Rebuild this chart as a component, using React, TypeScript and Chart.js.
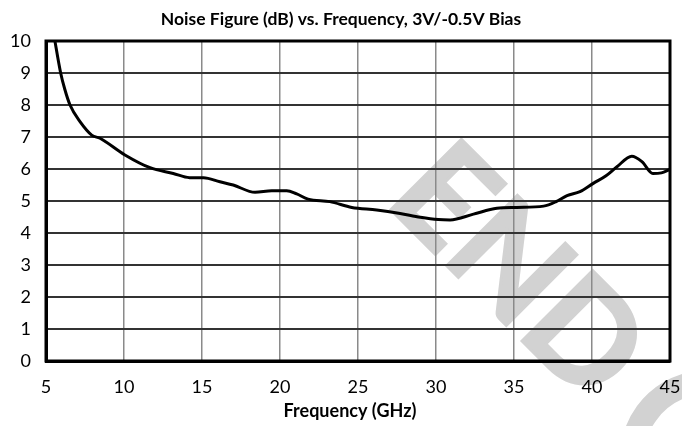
import React, { useEffect, useRef } from "react";
import { Chart, registerables } from "chart.js";

Chart.register(...registerables);

const chartTitle = "Noise Figure (dB) vs. Frequency, 3V/-0.5V Bias";
const xAxisTitle = "Frequency (GHz)";
const watermarkText = "END";

const xTickMin = 5;
const xTickMax = 45;
const xTickStep = 5;
const yTickMin = 0;
const yTickMax = 10;
const yTickStep = 1;

const freqGHz = [
  5.5, 5.94, 6.2, 6.54, 7.18, 7.93, 8.46, 10.06, 11.67, 13.16, 14.2, 15.1,
  16.15, 17.0, 18.4, 19.47, 20.43, 21.07, 21.8, 23.2, 24.6, 26.2, 27.7, 29.0,
  30.15, 30.9, 32.4, 33.9, 35.17, 36.9, 37.7, 38.4, 39.23, 40.08, 40.9, 41.6,
  42.55, 43.2, 43.9, 44.45, 45.0,
];
const noiseFigureDb = [
  10.2, 9.0, 8.5, 8.0, 7.48, 7.06, 6.96, 6.44, 6.04, 5.86, 5.73, 5.73,
  5.6, 5.5, 5.27, 5.32, 5.32, 5.22, 5.06, 4.98, 4.8, 4.72, 4.61, 4.49,
  4.42, 4.41, 4.59, 4.77, 4.8, 4.84, 4.98, 5.17, 5.29, 5.55, 5.79, 6.07,
  6.4, 6.23, 5.86, 5.88, 5.99,
];

const FONT = "Lato, 'Open Sans', sans-serif";

export default function App() {
  const canvasRef = useRef<HTMLCanvasElement | null>(null);

  useEffect(() => {
    document.body.style.margin = "0";
    const canvas = canvasRef.current;
    if (!canvas) return;

    const decor = {
      id: "decor",
      beforeDraw(chart: any) {
        const ctx = chart.ctx;
        ctx.save();
        ctx.fillStyle = "#ffffff";
        ctx.fillRect(0, 0, chart.width, chart.height);
        // watermark
        ctx.fillStyle = "#d2d2d2";
        ctx.strokeStyle = "#d2d2d2";
        ctx.lineWidth = 3;
        ctx.lineJoin = "miter";
        ctx.save();
        ctx.translate(383, 202);
        ctx.rotate(Math.PI / 4);
        ctx.font = `bold 138px ${FONT}`;
        ctx.textBaseline = "alphabetic";
        ctx.textAlign = "left";
        ctx.fillText(watermarkText, 0, 0);
        ctx.strokeText(watermarkText, 0, 0);
        ctx.restore();
        // partial ring of the next watermark glyph at the corner
        ctx.lineWidth = 24;
        ctx.beginPath();
        ctx.arc(708, 458, 76, Math.PI * 0.95, Math.PI * 1.6);
        ctx.stroke();
        ctx.restore();
      },
      afterDatasetsDraw(chart: any) {
        const { ctx, chartArea } = chart;
        ctx.save();
        ctx.strokeStyle = "#000000";
        ctx.lineWidth = 3;
        ctx.strokeRect(
          chartArea.left,
          chartArea.top,
          chartArea.right - chartArea.left,
          chartArea.bottom - chartArea.top
        );
        ctx.fillStyle = "#000000";
        ctx.textAlign = "center";
        ctx.textBaseline = "middle";
        ctx.font = `bold 17.5px ${FONT}`;
        ctx.fillText(chartTitle, 341, 19);
        ctx.font = `bold 18px ${FONT}`;
        ctx.fillText(xAxisTitle, 350, 411);
        ctx.restore();
      },
    };

    const chart = new Chart(canvas, {
      type: "line",
      data: {
        datasets: [
          {
            data: freqGHz.map((f, i) => ({ x: f, y: noiseFigureDb[i] })),
            borderColor: "#000000",
            borderWidth: 3,
            pointRadius: 0,
            tension: 0.4,
            cubicInterpolationMode: "monotone",
            fill: false,
          },
        ],
      },
      options: {
        animation: false,
        responsive: false,
        layout: { padding: { left: 0, right: 12, top: 41, bottom: 0 } },
        plugins: {
          legend: { display: false },
          title: { display: false },
          tooltip: { enabled: false },
        },
        scales: {
          x: {
            type: "linear",
            min: xTickMin,
            max: xTickMax,
            afterFit(scale: any) {
              scale.height = 65;
              scale.paddingLeft = 0;
              scale.paddingRight = 0;
            },
            ticks: {
              stepSize: xTickStep,
              color: "#000000",
              font: { family: FONT, size: 18 },
              padding: 15,
              maxRotation: 0,
            },
            grid: { color: "#8a8a8a", lineWidth: 1.5, drawTicks: false },
            border: { color: "#000000", width: 3 },
          },
          y: {
            type: "linear",
            min: yTickMin,
            max: yTickMax,
            afterFit(scale: any) {
              scale.width = 46;
              scale.paddingTop = 0;
              scale.paddingBottom = 0;
            },
            ticks: {
              stepSize: yTickStep,
              color: "#000000",
              font: { family: FONT, size: 18 },
              padding: 15,
            },
            grid: { color: "#333333", lineWidth: 2, drawTicks: false },
            border: { color: "#000000", width: 3 },
          },
        },
      },
      plugins: [decor],
    });

    return () => chart.destroy();
  }, []);

  return (
    <div style={{ width: 682, height: 426 }}>
      <canvas ref={canvasRef} width={682} height={426} />
    </div>
  );
}
